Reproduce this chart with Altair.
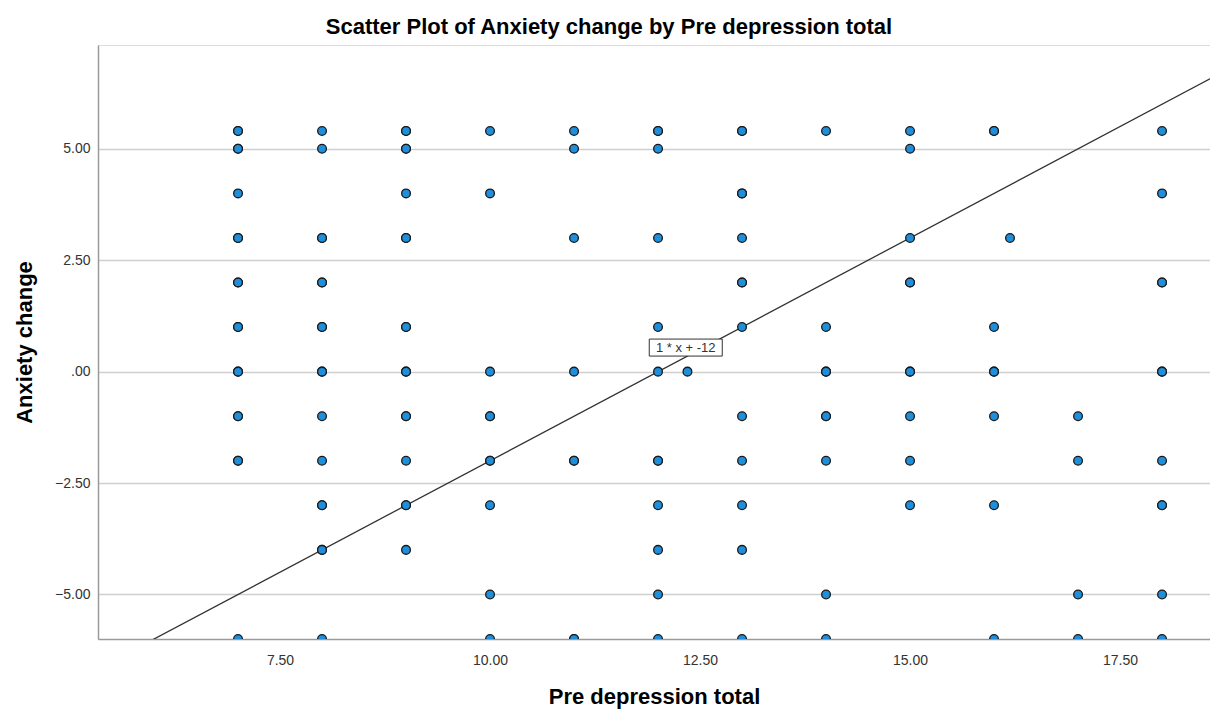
import altair as alt
import pandas as pd

# Pre depression total (x) and anxiety change (y), one list per column of cases
pre_total = (
    [7] * 18
    + [8] * 17
    + [9] * 17
    + [10] * 10
    + [11] * 8
    + [12] * 12
    + [12.35]
    + [13] * 13
    + [14] * 9
    + [15] * 10
    + [16] * 8
    + [16.19]
    + [17] * 4
    + [18] * 11
)
anxiety_change = (
    [5.4, 5.4, 5, 5, 4, 3, 3, 2, 2, 1, 1, 0, 0, -1, -1, -2, -2, -6]
    + [5.4, 5, 3, 3, 2, 2, 1, 1, 0, 0, -1, -2, -3, -3, -4, -4, -6]
    + [5.4, 5.4, 5, 5, 4, 3, 3, 1, 1, 0, 0, -1, -1, -2, -3, -3, -4]
    + [5.4, 4, 0, -1, -1, -2, -2, -3, -5, -6]
    + [5.4, 5, 3, 0, -2, -2, -6, -6]
    + [5.4, 5.4, 5, 3, 1, 0, -2, -2, -3, -4, -5, -6]
    + [0]
    + [5.4, 5.4, 4, 4, 3, 2, 2, 1, -1, -2, -3, -4, -6]
    + [5.4, 1, 0, 0, -1, -1, -2, -5, -6]
    + [5.4, 5, 3, 2, 2, 0, 0, -1, -2, -3]
    + [5.4, 5.4, 1, 0, 0, -1, -3, -6]
    + [3]
    + [-1, -2, -5, -6]
    + [5.4, 4, 2, 2, 0, 0, -2, -3, -3, -5, -6]
)

# Fit line shown on the chart: y = slope * x + intercept
slope = 1
intercept = -12
fit_label = "1 * x + -12"
label_x = 12.33
label_y = 0.54

x_domain = [5.333, 18.571]
y_domain = [-6.0, 7.33]
x_ticks = [7.5, 10, 12.5, 15, 17.5]
y_ticks = [-5, -2.5, 0, 2.5, 5]

points = pd.DataFrame({"pre": pre_total, "anx": anxiety_change})
fit = pd.DataFrame({"pre": x_domain})
fit["anx"] = slope * fit["pre"] + intercept
label_df = pd.DataFrame({"pre": [label_x], "anx": [label_y], "txt": [fit_label]})

FONT = "Liberation Sans"

x_scale = alt.Scale(domain=x_domain, nice=False, zero=False)
y_scale = alt.Scale(domain=y_domain, nice=False, zero=False)

x_enc = alt.X(
    "pre:Q",
    scale=x_scale,
    title="Pre depression total",
    axis=alt.Axis(
        values=x_ticks,
        format=".2f",
        grid=False,
        ticks=False,
        domainColor="#9a9a9a",
        domainWidth=1.5,
        labelFont=FONT,
        labelFontSize=14,
        labelColor="#333333",
        labelPadding=14,
        titleFont=FONT,
        titleFontSize=22,
        titleFontWeight="bold",
        titleColor="#000000",
        titlePadding=19,
    ),
)
y_enc = alt.Y(
    "anx:Q",
    scale=y_scale,
    title="Anxiety change",
    axis=alt.Axis(
        values=y_ticks,
        labelExpr="datum.value == 0 ? '.00' : format(datum.value, '.2f')",
        grid=True,
        gridColor="#cfcfcf",
        gridWidth=1.5,
        ticks=False,
        domainColor="#9a9a9a",
        domainWidth=1.5,
        labelFont=FONT,
        labelFontSize=14,
        labelColor="#333333",
        labelPadding=8,
        titleFont=FONT,
        titleFontSize=22,
        titleFontWeight="bold",
        titleColor="#000000",
        titlePadding=18,
    ),
)

fit_line = alt.Chart(fit).mark_line(color="#333333", strokeWidth=1.3, clip=True).encode(
    x=x_enc, y=y_enc
)

dots = alt.Chart(points).mark_point(
    shape="circle",
    filled=True,
    size=76,
    fill="#1f8fdc",
    stroke="#1a1a1a",
    strokeWidth=1.3,
    opacity=1,
    fillOpacity=1,
    clip=True,
).encode(x="pre:Q", y="anx:Q")

label_box = alt.Chart(label_df).mark_rect(
    width=73, height=17, fill="white", stroke="#333333", strokeWidth=1
).encode(x="pre:Q", y="anx:Q")

label_text = alt.Chart(label_df).mark_text(
    font=FONT, fontSize=13, color="#333333", align="center", baseline="middle"
).encode(x="pre:Q", y="anx:Q", text="txt:N")

chart = (
    alt.layer(fit_line, dots, label_box, label_text)
    .properties(
        width=1112,
        height=594,
        autosize=alt.AutoSizeParams(type="none"),
        padding={"left": 98, "top": 45, "right": 0, "bottom": 78},
        title=alt.TitleParams(
            "Scatter Plot of Anxiety change by Pre depression total",
            font=FONT,
            fontSize=22,
            fontWeight="bold",
            color="#000000",
            anchor="middle",
            frame="group",
            dx=-45,
            offset=6,
        ),
    )
    .configure_view(stroke=None)
    .configure(background="white")
)

chart.save("out.html", embed_options={"renderer": "svg", "actions": False})
